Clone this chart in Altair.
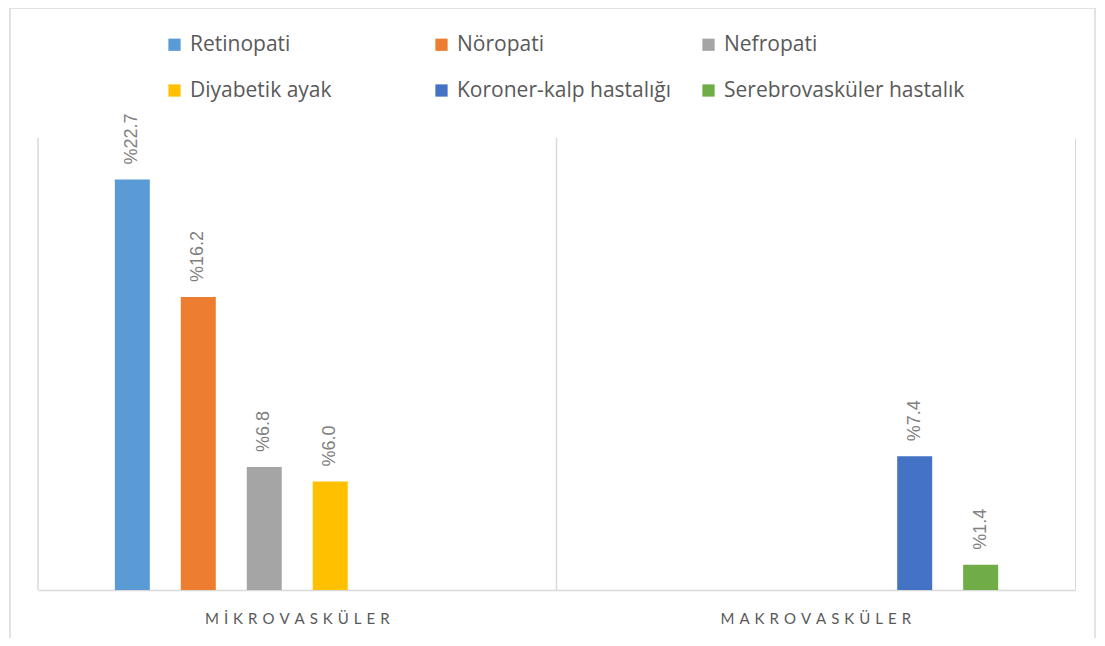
import altair as alt
import pandas as pd

categories = ["MİKROVASKÜLER", "MAKROVASKÜLER"]
series = ["Retinopati", "Nöropati", "Nefropati", "Diyabetik ayak",
          "Koroner-kalp hastalığı", "Serebrovasküler hastalık"]
colors = ["#5B9BD5", "#ED7D31", "#A5A5A5", "#FFC000", "#4472C4", "#70AD47"]
bar_category = ["MİKROVASKÜLER", "MİKROVASKÜLER", "MİKROVASKÜLER", "MİKROVASKÜLER",
                "MAKROVASKÜLER", "MAKROVASKÜLER"]
values = [22.7, 16.2, 6.8, 6.0, 7.4, 1.4]

df = pd.DataFrame({"kategori": bar_category, "seri": series, "deger": values})
cat_df = pd.DataFrame({"kategori": categories})

W, H = 1037, 452
GRAY = "#d9d9d9"

x_scale = alt.Scale(domain=categories, paddingInner=0, paddingOuter=0)

x_enc = alt.X(
    "kategori:N", sort=categories, scale=x_scale,
    axis=alt.Axis(title=None, grid=False, ticks=False, domainColor=GRAY, domainWidth=1.5,
                  labelPadding=28, labelFontSize=15, labelColor="#595959", labelFont="Lato",
                  labelAngle=0, labelAlign="center", labelLimit=400,
                  labelExpr="join(split(datum.label, ''), '\u2004')"),
)
xoff_enc = alt.XOffset("seri:N", scale=alt.Scale(domain=series, paddingInner=0, paddingOuter=0.93))
y_enc = alt.Y("deger:Q", scale=alt.Scale(domain=[0, 25], nice=False),
              axis=alt.Axis(orient="right", labels=False, ticks=False, grid=False,
                            domainColor=GRAY, title=None))

bars = alt.Chart(df).mark_bar(width=35).encode(
    x=x_enc, xOffset=xoff_enc, y=y_enc,
    color=alt.Color("seri:N", scale=alt.Scale(domain=series, range=colors),
                    legend=alt.Legend(title=None, orient="none", legendX=126, legendY=-104,
                                      direction="horizontal", columns=3, gridAlign="all",
                                      symbolType="square", symbolSize=150, symbolStrokeWidth=0,
                                      labelFont="Open Sans", labelFontSize=21, labelColor="#595959",
                                      labelOffset=5, labelLimit=400, rowPadding=24,
                                      columnPadding=-2, padding=0)),
)

labels = alt.Chart(df).transform_calculate(
    lbl="'%' + format(datum.deger, '.1f')"
).mark_text(angle=270, align="left", baseline="middle", dx=15,
            font="Liberation Sans", fontSize=18, color="#7f7f7f").encode(
    x=alt.X("kategori:N", sort=categories, scale=x_scale), xOffset=xoff_enc,
    y=alt.Y("deger:Q"), text="lbl:N",
)

grid = alt.Chart(cat_df).mark_rule(color=GRAY, strokeWidth=1.5).encode(
    x=alt.X("kategori:N", sort=categories, bandPosition=0, scale=x_scale),
)

frame = alt.Chart(pd.DataFrame({"a": [0]})).mark_rect(
    fillOpacity=0, stroke=GRAY, strokeWidth=1.5
).encode(x=alt.value(-28), x2=alt.value(W + 20), y=alt.value(-130), y2=alt.value(H + 80))

chart = alt.layer(frame, grid, bars, labels).properties(
    width=W, height=H,
    background="white",
    autosize=alt.AutoSizeParams(type="none"),
    padding={"left": 30, "top": 130, "right": 22, "bottom": 48},
).configure_view(strokeWidth=0, stroke="transparent")

chart.save("out.html", embed_options={"renderer": "svg", "actions": False})
